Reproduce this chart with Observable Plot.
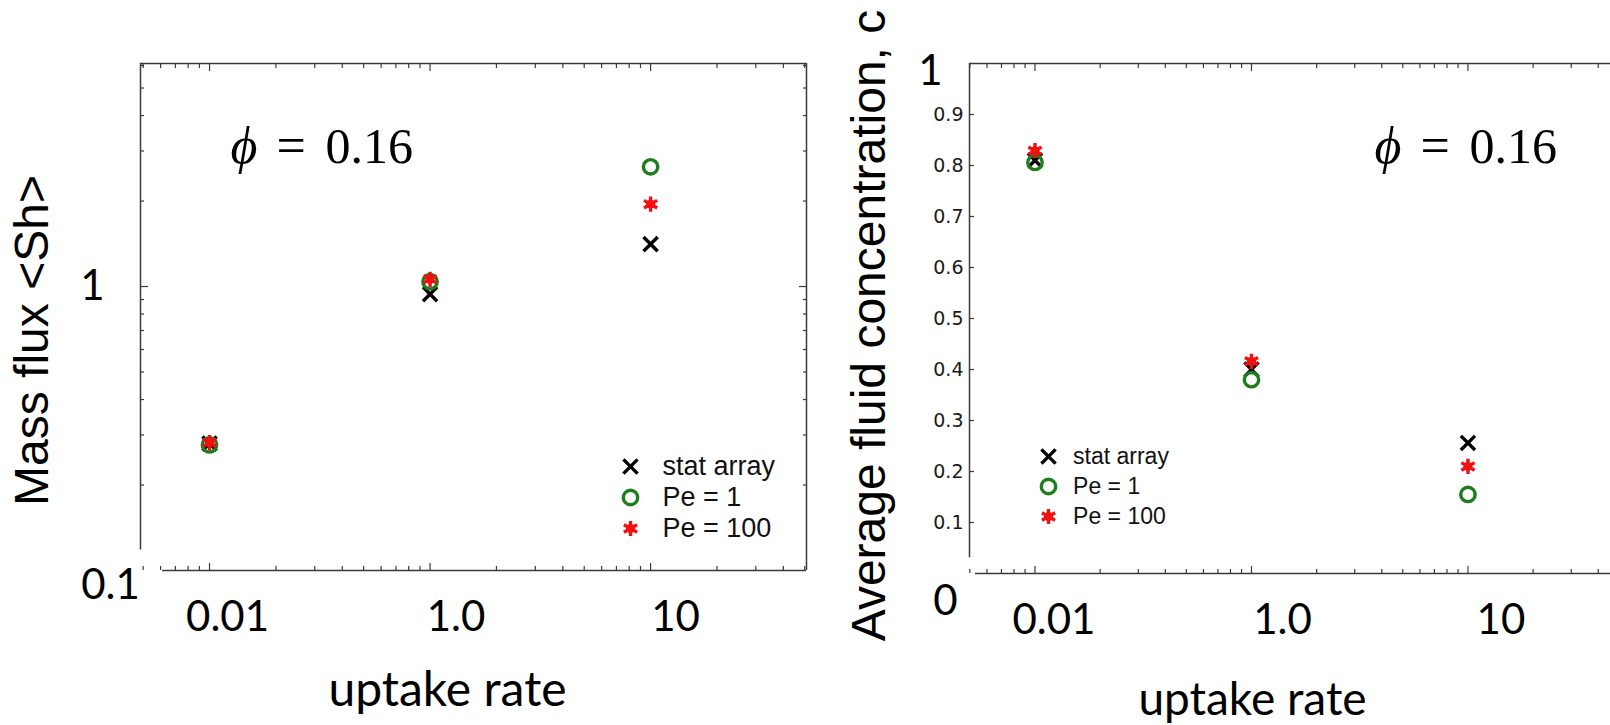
<!DOCTYPE html>
<html>
<head>
<meta charset="utf-8">
<script src="https://cdn.jsdelivr.net/npm/d3@7"></script>
<script src="https://cdn.jsdelivr.net/npm/@observablehq/plot@0.6"></script>
<style>
  html, body { margin: 0; padding: 0; background: #fff; }
  #chart { position: relative; width: 1610px; height: 725px; overflow: hidden; background: #fff; }
  #chart svg { position: absolute; top: 0; left: 0; max-width: none; overflow: visible; }
</style>
</head>
<body>
<div id="chart"></div>
<script>
// ---- data ----------------------------------------------------------------
const uptakeRates = ["0.01", "1.0", "10"];           // x categories (one decade slot each)
const seriesNames = ["stat array", "Pe = 1", "Pe = 100"];

// Mass flux <Sh> (log axis)
const shStatArray = [0.280, 0.940, 1.41];
const shPe1       = [0.277, 1.040, 2.64];
const shPe100     = [0.282, 1.060, 1.95];

// Average fluid concentration, c (linear axis)
const cStatArray  = [0.810, 0.400, 0.256];
const cPe1        = [0.806, 0.380, 0.155];
const cPe100      = [0.829, 0.416, 0.210];

const phiValue = 0.16;

const shMajorTicks = [0.1, 1];
const shMinorTicks = [0.2, 0.3, 0.4, 0.5, 0.6, 0.7, 0.8, 0.9, 2, 3, 4, 5, 6];
const cTicks = [0.1, 0.2, 0.3, 0.4, 0.5, 0.6, 0.7, 0.8, 0.9];
const cEndLabels = [0, 1];

// ---- shared settings -------------------------------------------------------
const W = 1610, H = 725;
const xMajor = [0, 1, 2];                             // decade position of each category
function minorTicks(domain) {
  return d3.range(-1, 4)
    .flatMap(i => d3.range(2, 10).map(k => i + Math.log10(k)))
    .filter(v => v > domain[0] && v < domain[1]);
}

const frameColor = "#3a3a3a";
const bigFont = "Lato, 'Open Sans', sans-serif";
const titleFont = "'Liberation Sans', Arial, sans-serif";
const smallFont = "'DejaVu Sans', sans-serif";
const mathFont = "'Liberation Serif', 'DejaVu Serif', serif";

const styles = {
  "stat array": {symbol: "times", stroke: "#000", r: 6.5, strokeWidth: 3.4},
  "Pe = 1":     {symbol: "circle", stroke: "#1b7d1b", r: 7.2, strokeWidth: 3.4, fill: "none"},
  "Pe = 100":   {symbol: "asterisk", stroke: "#f21010", r: 7.2, strokeWidth: 3.4}
};

function rows(values) {
  return seriesNames.flatMap((s, j) => values[j].map((v, i) => ({series: s, x: i, y: v})));
}

function seriesMarks(data) {
  return seriesNames.flatMap(s => {
    const d = data.filter(r => r.series === s);
    const st = styles[s];
    const marks = [Plot.dot(d, {x: "x", y: "y", ...st})];
    if (s === "Pe = 100") marks.unshift(Plot.dot(d, {x: "x", y: "y", r: 4.5, fill: st.stroke, stroke: "none"}));
    return marks;
  });
}

function xTickMarks(domain) {
  const common = {tickFormat: () => "", label: null, stroke: frameColor, strokeWidth: 1.2};
  const minor = minorTicks(domain);
  return [
    Plot.axisX({anchor: "top", ticks: xMajor, tickSize: -7, ...common}),
    Plot.axisX({anchor: "top", ticks: minor, tickSize: -4, ...common}),
    Plot.axisX({anchor: "bottom", ticks: xMajor, tickSize: -7, ...common}),
    Plot.axisX({anchor: "bottom", ticks: minor, tickSize: -4, ...common})
  ];
}

function yTickMarks(anchor, ticks, size) {
  return Plot.axisY({anchor, ticks, tickSize: -size, tickFormat: () => "", label: null,
    stroke: frameColor, strokeWidth: 1.2});
}

// category labels under the axis, each nudged a little to the right of its tick
function xLabelMarks(offsets) {
  return xMajor.map((i, k) => Plot.text([i], {x: d => d, text: d => uptakeRates[d], frameAnchor: "bottom",
    dx: offsets[k], dy: 31, lineAnchor: "top", textAnchor: "middle", fontSize: 42, fontFamily: bigFont}));
}

function phiMarks(left, baseline, frameLeft, frameTop) {
  const at = {frameAnchor: "top-left", dy: baseline - frameTop, lineAnchor: "bottom", textAnchor: "start",
    fontFamily: mathFont};
  return [
    Plot.text(["\u03d5"], {...at, dx: left - frameLeft, fontStyle: "italic", fontSize: 52}),
    Plot.text(["="], {...at, dx: left + 46 - frameLeft, fontSize: 52}),
    Plot.text([phiValue.toFixed(2)], {...at, dx: left + 95 - frameLeft, fontSize: 50})
  ];
}

// ---- left panel: mass flux (log scale) -------------------------------------
const L = {left: 140, right: 806, top: 63, bottom: 570};
const xDomainL = [-0.313, 2.707];
const shDomain = [0.1, 6.1];
const left = Plot.plot({
  width: W, height: H,
  marginLeft: L.left, marginRight: W - L.right, marginTop: L.top, marginBottom: H - L.bottom,
  x: {domain: xDomainL},
  y: {type: "log", domain: shDomain},
  style: {background: "transparent", color: "#000"},
  marks: [
    Plot.ruleY([shDomain[1]], {stroke: frameColor, strokeWidth: 1.5}),
    Plot.ruleX([xDomainL[1]], {stroke: frameColor, strokeWidth: 1.5}),
    Plot.ruleX([xDomainL[0]], {y1: 0.118, y2: shDomain[1], stroke: frameColor, strokeWidth: 1.5}),
    Plot.ruleY([shDomain[0]], {x1: -0.213, x2: xDomainL[1], stroke: frameColor, strokeWidth: 1.5}),
    ...xTickMarks(xDomainL),
    yTickMarks("left", [1], 8),
    yTickMarks("left", shMinorTicks, 4),
    yTickMarks("right", [1], 8),
    yTickMarks("right", shMinorTicks, 4),
    ...xLabelMarks([18, 26, 25]),
    Plot.text([shMajorTicks[1]], {y: d => d, text: d => String(d), frameAnchor: "left", dx: -48,
      textAnchor: "middle", lineAnchor: "middle", fontSize: 42, fontFamily: bigFont}),
    Plot.text([shMajorTicks[0]], {y: d => d, text: d => String(d), frameAnchor: "left", dx: -30, dy: 15,
      textAnchor: "middle", lineAnchor: "middle", fontSize: 42, fontFamily: bigFont}),
    Plot.text(["Mass flux <Sh>"], {frameAnchor: "left", dx: 47 - L.left, dy: 340 - (L.top + L.bottom) / 2,
      rotate: -90, textAnchor: "middle", lineAnchor: "bottom", fontSize: 48, fontFamily: titleFont}),
    Plot.text(["uptake rate"], {frameAnchor: "bottom-left", dx: 447 - L.left, dy: 705 - L.bottom,
      textAnchor: "middle", lineAnchor: "bottom", fontSize: 48, fontFamily: bigFont}),
    ...phiMarks(230, 162, L.left, L.top),
    ...seriesMarks(rows([shStatArray, shPe1, shPe100]))
  ]
});

// ---- right panel: average fluid concentration (linear scale) ---------------
const R = {left: 969, right: 1635, top: 63, bottom: 573};
const RW = 1700;
const xDomainR = [-0.3025, 2.774];
const right = Plot.plot({
  width: RW, height: H,
  marginLeft: R.left, marginRight: RW - R.right, marginTop: R.top, marginBottom: H - R.bottom,
  x: {domain: xDomainR},
  y: {domain: [0, 1]},
  style: {background: "transparent", color: "#000"},
  marks: [
    Plot.ruleY([1], {stroke: frameColor, strokeWidth: 1.5}),
    Plot.ruleX([xDomainR[1]], {stroke: frameColor, strokeWidth: 1.5}),
    Plot.ruleX([xDomainR[0]], {y1: 0.031, y2: 1, stroke: frameColor, strokeWidth: 1.5}),
    Plot.ruleY([0], {x1: -0.275, x2: xDomainR[1], stroke: frameColor, strokeWidth: 1.5}),
    ...xTickMarks(xDomainR),
    yTickMarks("left", cTicks, 5),
    Plot.axisY({anchor: "left", ticks: cTicks, tickSize: 0, tickPadding: 6, tickFormat: d3.format(".1f"),
      label: null, fontSize: 19, fontFamily: smallFont, fill: "#1a1a1a"}),
    ...xLabelMarks([19, 31, 33]),
    Plot.text([cEndLabels[1]], {y: d => d, text: d => String(d), frameAnchor: "left", dx: -39, dy: 8,
      textAnchor: "middle", lineAnchor: "middle", fontSize: 42, fontFamily: bigFont}),
    Plot.text([cEndLabels[0]], {y: d => d, text: d => String(d), frameAnchor: "left", dx: -24, dy: 28,
      textAnchor: "middle", lineAnchor: "middle", fontSize: 42, fontFamily: bigFont}),
    Plot.text(["Average fluid concentration, c"], {frameAnchor: "left", dx: 884 - R.left,
      dy: 325 - (R.top + R.bottom) / 2, rotate: -90, textAnchor: "middle", lineAnchor: "bottom",
      fontSize: 48, fontFamily: titleFont}),
    Plot.text(["uptake rate"], {frameAnchor: "bottom-left", dx: 1252 - R.left, dy: 714 - R.bottom,
      textAnchor: "middle", lineAnchor: "bottom", fontSize: 46, fontFamily: bigFont}),
    ...phiMarks(1374, 162, R.left, R.top),
    ...seriesMarks(rows([cStatArray, cPe1, cPe100]))
  ]
});

// ---- legends ---------------------------------------------------------------
function legend(rowGap, fontSize) {
  const top = 16;
  return Plot.plot({
    width: 220, height: top * 2 + rowGap * 2,
    margin: 0, marginTop: top, marginBottom: top,
    y: {type: "point", domain: seriesNames, padding: 0, axis: null},
    style: {background: "transparent"},
    marks: [
      ...seriesNames.flatMap(s => {
        const st = styles[s];
        const m = [Plot.dot([s], {y: d => d, frameAnchor: "left", dx: 18, ...st})];
        if (s === "Pe = 100") m.unshift(Plot.dot([s], {y: d => d, frameAnchor: "left", dx: 18, r: 4.5, fill: st.stroke}));
        return m;
      }),
      Plot.text(seriesNames, {y: d => d, frameAnchor: "left", dx: fontSize * 1.85, textAnchor: "start",
        lineAnchor: "middle", fontSize, fontFamily: titleFont, fill: "#111"})
    ]
  });
}

const chart = document.getElementById("chart");
chart.append(left, right);

const legLeft = legend(31, 27);
legLeft.style.left = (630 - 18) + "px";
legLeft.style.top = (466 - 16) + "px";
const legRight = legend(30, 23);
legRight.style.left = (1048 - 18) + "px";
legRight.style.top = (456 - 16) + "px";
chart.append(legLeft, legRight);
</script>
</body>
</html>
